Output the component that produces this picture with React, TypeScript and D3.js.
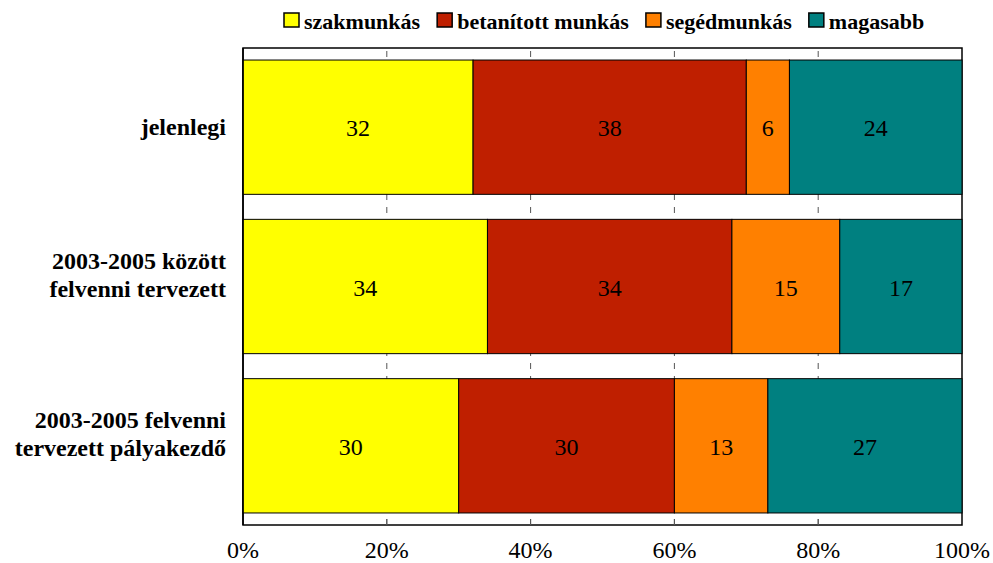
import * as d3 from 'd3';
import { useEffect, useRef } from 'react';

const categories = ['jelenlegi', '2003-2005 között|felvenni tervezett', '2003-2005 felvenni|tervezett pályakezdő'];
const seriesNames = ['szakmunkás', 'betanított munkás', 'segédmunkás', 'magasabb'];
const szakmunkas = [32, 34, 30];
const betanitott = [38, 34, 30];
const segedmunkas = [6, 15, 13];
const magasabb = [24, 17, 27];
const colors = ['#ffff00', '#bf1f00', '#ff8000', '#008080'];
const xTicks = [0, 20, 40, 60, 80, 100];

const W = 993;
const H = 563;
const FONT = "'Liberation Serif', 'Times New Roman', 'DejaVu Serif', serif";

export default function App() {
  const ref = useRef<SVGSVGElement>(null);

  useEffect(() => {
    if (!ref.current) return;
    const svg = d3.select(ref.current);
    svg.selectAll('*').remove();

    const left = 243, right = 962, top = 48, bottom = 525;
    const x = d3.scaleLinear().domain([0, 100]).range([left, right]);
    const y = d3.scaleBand<string>()
      .domain(categories)
      .range([top, bottom])
      .paddingInner(0.157)
      .paddingOuter(0.0755);

    const values = [szakmunkas, betanitott, segedmunkas, magasabb];
    const rows = categories.map((c, i) => {
      const r: any = { cat: c };
      seriesNames.forEach((s, j) => (r[s] = values[j][i]));
      return r;
    });
    const stacked = d3.stack<any>().keys(seriesNames)(rows);

    // frame
    svg.append('rect')
      .attr('x', left).attr('y', top)
      .attr('width', right - left).attr('height', bottom - top)
      .attr('fill', '#fff').attr('stroke', '#000').attr('stroke-width', 1.5);

    // dashed grid (shows only between the bars)
    svg.append('g').selectAll('line')
      .data(xTicks.slice(1, -1))
      .join('line')
      .attr('x1', d => x(d)).attr('x2', d => x(d))
      .attr('y1', bottom).attr('y2', top)
      .attr('stroke', '#555').attr('stroke-width', 1)
      .attr('stroke-dasharray', '6,7');

    // bars
    stacked.forEach((layer, j) => {
      svg.append('g').selectAll('rect')
        .data(layer)
        .join('rect')
        .attr('x', d => x(d[0]))
        .attr('y', d => y(d.data.cat)!)
        .attr('width', d => x(d[1]) - x(d[0]))
        .attr('height', y.bandwidth())
        .attr('fill', colors[j])
        .attr('stroke', '#000')
        .attr('stroke-width', 1);

      svg.append('g').selectAll('text')
        .data(layer)
        .join('text')
        .attr('x', d => (x(d[0]) + x(d[1])) / 2)
        .attr('y', d => y(d.data.cat)! + y.bandwidth() / 2 + 9)
        .attr('text-anchor', 'middle')
        .style('font-family', FONT)
        .style('font-size', '24px')
        .attr('fill', '#000')
        .text(d => d[1] - d[0]);
    });

    // left frame edge on top of bars
    svg.append('line')
      .attr('x1', left).attr('x2', left).attr('y1', top).attr('y2', bottom)
      .attr('stroke', '#000').attr('stroke-width', 1.5);

    // x axis
    const ax = svg.append('g');
    ax.selectAll('line')
      .data(xTicks.slice(1, -1))
      .join('line')
      .attr('x1', d => x(d)).attr('x2', d => x(d))
      .attr('y1', bottom).attr('y2', bottom - 6)
      .attr('stroke', '#555');
    ax.selectAll('text')
      .data(xTicks)
      .join('text')
      .attr('x', d => x(d))
      .attr('y', 558)
      .attr('text-anchor', 'middle')
      .style('font-family', FONT)
      .style('font-size', '24px')
      .text(d => d + '%');

    // category labels
    categories.forEach(c => {
      const lines = c.split('|');
      const cy = y(c)! + y.bandwidth() / 2;
      const t = svg.append('text')
        .attr('text-anchor', 'end')
        .style('font-family', FONT)
        .style('font-weight', 'bold')
        .style('font-size', '24px');
      lines.forEach((l, i) => {
        t.append('tspan')
          .attr('x', 226)
          .attr('y', cy + 8 - (lines.length - 1) * 26 + i * 28)
          .text(l);
      });
    });

    // legend
    const lg = svg.append('g');
    let lx = 284;
    seriesNames.forEach((s, j) => {
      lg.append('rect')
        .attr('x', lx).attr('y', 13)
        .attr('width', 15).attr('height', 14)
        .attr('fill', colors[j])
        .attr('stroke', '#000').attr('stroke-width', 1.5);
      const t = lg.append('text')
        .attr('x', lx + 20).attr('y', 29)
        .style('font-family', FONT)
        .style('font-weight', 'bold')
        .style('font-size', '22px')
        .text(s);
      const w = (t.node() as SVGTextElement).getComputedTextLength();
      lx += 20 + w + 17;
    });
  }, []);

  return (
    <svg
      ref={ref}
      width={W}
      height={H}
      style={{ position: 'absolute', left: 0, top: 0, background: '#fff', display: 'block' }}
    />
  );
}
